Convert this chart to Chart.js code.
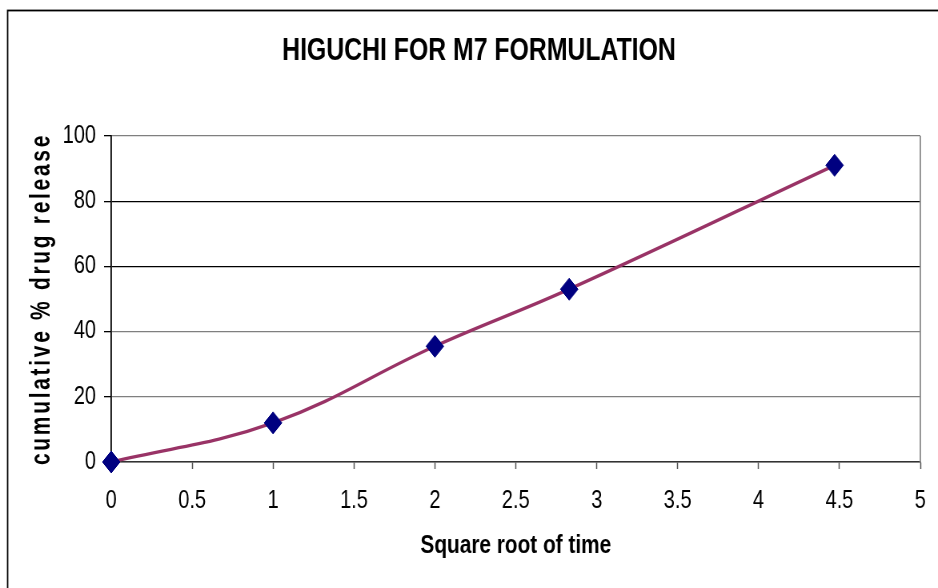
<!DOCTYPE html>
<html>
<head>
<meta charset="utf-8">
<script src="https://cdn.jsdelivr.net/npm/chart.js@4.4.1/dist/chart.umd.min.js"></script>
<style>
  html, body { margin: 0; padding: 0; background: #ffffff; overflow: hidden; }
  #view { position: relative; width: 938px; height: 588px; overflow: hidden; }
  /* the chart is laid out wide and condensed horizontally, giving narrow lettering */
  #wrap { position: absolute; left: 0; top: 0; width: 1172px; height: 588px;
          transform: scaleX(0.8003); transform-origin: 0 0; }
</style>
</head>
<body>
<div id="view"><div id="wrap"><canvas id="c" width="1172" height="588" style="width:1172px;height:588px"></canvas></div></div>
<script>
// Higuchi plot: cumulative release against square root of time
const sqrtTime = [0, 1, 2, 2.83, 4.47];
const cumRelease = [0, 12, 35.5, 53, 91];
const xTicks = [0, 0.5, 1, 1.5, 2, 2.5, 3, 3.5, 4, 4.5, 5];
const yTicks = [0, 20, 40, 60, 80, 100];

const FONT = '"Liberation Sans", Arial, sans-serif';
const LEFT_PAD = 25;

const points = sqrtTime.map((x, i) => ({ x: x, y: cumRelease[i] }));

// vertical axis title: tall, tightly fitted lettering with extra tracking
function drawSpacedTitle() {
  const t = this.options.title;
  const font = Chart.helpers.toFont(t.font);
  const pad = Chart.helpers.toPadding(t.padding);
  const ctx = this.ctx;
  const cx = this.left + pad.top + font.lineHeight / 2;
  const cy = (this.top + this.bottom) / 2 + 2;
  ctx.save();
  ctx.translate(cx, cy);
  ctx.rotate(-Math.PI / 2);
  ctx.font = font.string;
  ctx.letterSpacing = '4.5px';
  ctx.textAlign = 'center';
  ctx.textBaseline = 'middle';
  ctx.fillStyle = t.color;
  ctx.fillText(t.text, 2, 0, this.bottom - this.top + 6);
  ctx.restore();
}

// frame around the whole chart plus the plot-area edge on the right
const framePlugin = {
  id: 'frame',
  beforeDraw(chart) {
    const ctx = chart.ctx;
    ctx.save();
    ctx.fillStyle = '#ffffff';
    ctx.fillRect(0, 0, chart.width, chart.height);
    ctx.strokeStyle = '#000000';
    ctx.lineWidth = 1.8;
    ctx.strokeRect(9.5, 10.5, chart.width + 20, chart.height + 20);
    ctx.restore();
    const ys = chart.scales.y;
    if (ys && ys.drawTitle !== drawSpacedTitle) ys.drawTitle = drawSpacedTitle;
  },
  beforeDatasetsDraw(chart) {
    const a = chart.chartArea;
    const ctx = chart.ctx;
    ctx.save();
    ctx.strokeStyle = '#8c8c8c';
    ctx.lineWidth = 1.8;
    ctx.beginPath();
    ctx.moveTo(a.right, a.top);
    ctx.lineTo(a.right, a.bottom);
    ctx.stroke();
    ctx.restore();
  }
};

new Chart(document.getElementById('c'), {
  type: 'scatter',
  data: {
    datasets: [{
      data: points,
      showLine: true,
      clip: false,
      borderColor: '#993366',
      borderWidth: 3.4,
      tension: 0.4,
      pointStyle: 'rectRot',
      pointRadius: 11,
      pointHoverRadius: 11,
      pointBackgroundColor: '#000080',
      pointBorderColor: '#000080',
      pointBorderWidth: 1
    }]
  },
  options: {
    responsive: false,
    animation: false,
    devicePixelRatio: 1,
    layout: { padding: { left: LEFT_PAD, right: 0, top: 0, bottom: 0 } },
    plugins: {
      legend: { display: false },
      tooltip: { enabled: false },
      title: {
        display: true,
        text: 'HIGUCHI FOR M7 FORMULATION',
        color: '#000000',
        font: { family: FONT, size: 31, weight: 'bold', lineHeight: 1.2 },
        padding: { top: 33, bottom: 65.8 }
      }
    },
    scales: {
      x: {
        type: 'linear',
        min: 0,
        max: 5,
        afterBuildTicks(scale) { scale.ticks = xTicks.map(v => ({ value: v })); },
        afterFit(scale) {
          scale.height = 126;
          scale.paddingLeft = 0;
          scale.paddingRight = 22;
        },
        border: { display: true, color: '#333333', width: 1.5 },
        grid: {
          drawOnChartArea: false,
          drawTicks: true,
          tickLength: 7,
          tickColor: '#555555',
          tickWidth: 1.5
        },
        ticks: {
          color: '#000000',
          padding: 17,
          maxRotation: 0,
          autoSkip: false,
          font: { family: FONT, size: 25 },
          callback: v => String(v)
        },
        title: {
          display: true,
          text: 'Square root of time',
          color: '#000000',
          font: { family: FONT, size: 26, weight: 'bold', lineHeight: 1.2 },
          padding: { top: 0, bottom: 27 }
        }
      },
      y: {
        min: 0,
        max: 100,
        afterBuildTicks(scale) { scale.ticks = yTicks.map(v => ({ value: v })); },
        afterFit(scale) { scale.width = 139 - LEFT_PAD; },
        border: { display: true, color: '#000000', width: 1.8 },
        grid: {
          drawTicks: true,
          tickLength: 9,
          tickColor: '#000000',
          lineWidth: 1.3,
          color: ctx => (ctx.tick && (ctx.tick.value === 60 || ctx.tick.value === 80)) ? '#000000' : '#7f7f7f'
        },
        ticks: {
          color: '#000000',
          padding: 10,
          autoSkip: false,
          font: { family: FONT, size: 25 },
          callback: v => String(v)
        },
        title: {
          display: true,
          text: 'cumulative % drug release',
          color: '#000000',
          font: { family: FONT, size: 35, weight: 'bold', lineHeight: 1.2 },
          padding: { top: 31 - LEFT_PAD, bottom: 0 }
        }
      }
    }
  },
  plugins: [framePlugin]
});
</script>
</body>
</html>
